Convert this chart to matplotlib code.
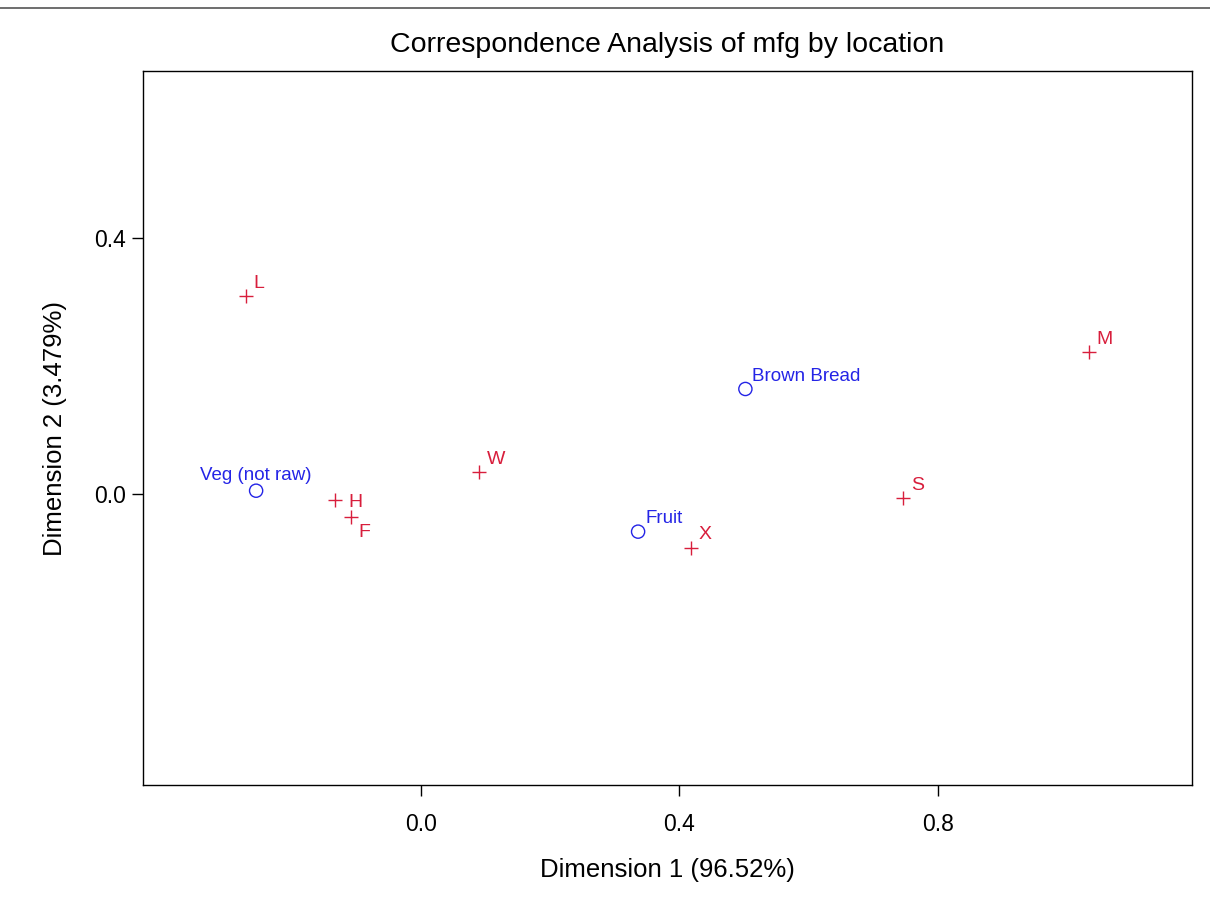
import matplotlib.pyplot as plt
from matplotlib import font_manager

# row points (location) and column points (mfg)
loc_labels = ["L", "H", "F", "W", "X", "S", "M"]
loc_x = [-0.271, -0.133, -0.108, 0.090, 0.418, 0.746, 1.034]
loc_y = [0.309, -0.009, -0.036, 0.034, -0.084, -0.006, 0.222]

mfg_labels = ["Veg (not raw)", "Fruit", "Brown Bread"]
mfg_x = [-0.255, 0.336, 0.502]
mfg_y = [0.005, -0.059, 0.164]

xticks = [0.0, 0.4, 0.8]
yticks = [0.0, 0.4]

names = {f.name for f in font_manager.fontManager.ttflist}
fam = "Liberation Sans Narrow" if "Liberation Sans Narrow" in names else "Liberation Sans"
plt.rcParams["font.family"] = [fam, "DejaVu Sans"]

red = "#d81e3c"
blue = "#2424e6"

fig = plt.figure(figsize=(12.1, 9), dpi=100)
ax = fig.add_axes([143 / 1210, 1 - 785 / 900, (1192 - 143) / 1210, (785 - 71) / 900])

ax.scatter(loc_x, loc_y, marker="+", s=110, color=red, linewidths=1.0)
ax.scatter(mfg_x, mfg_y, marker="o", s=90, facecolors="none", edgecolors=blue, linewidths=1.0)

# label placement: offset (points) and alignment for each location label
loc_pos = {"H": ((10, -2), "center"), "F": ((5, -5), "top")}
for lab, x, y in zip(loc_labels, loc_x, loc_y):
    off, va = loc_pos.get(lab, ((5.5, 3), "bottom"))
    ax.annotate(lab, (x, y), xytext=off, textcoords="offset points",
                color=red, fontsize=14, ha="left", va=va)

for lab, x, y in zip(mfg_labels, mfg_x, mfg_y):
    if lab.startswith("Veg"):
        ax.annotate(lab, (x, y), xytext=(0, 5), textcoords="offset points",
                    color=blue, fontsize=13.5, ha="center", va="bottom")
    else:
        ax.annotate(lab, (x, y), xytext=(5, 3), textcoords="offset points",
                    color=blue, fontsize=13.5, ha="left", va="bottom")

ax.set_xlim(-0.430, 1.193)
ax.set_ylim(-0.455, 0.661)
ax.set_xticks(xticks)
ax.set_xticklabels([f"{t:.1f}" for t in xticks])
ax.set_yticks(yticks)
ax.set_yticklabels([f"{t:.1f}" for t in yticks])
ax.tick_params(direction="out", length=8, width=1, labelsize=16.5)
ax.tick_params(axis="x", pad=12)
ax.tick_params(axis="y", pad=4)

ax.set_xlabel("Dimension 1 (96.52%)", fontsize=18.5, labelpad=16)
ax.set_ylabel("Dimension 2 (3.479%)", fontsize=18.5, labelpad=20)
ax.set_title("Correspondence Analysis of mfg by location", fontsize=20.5, pad=14)

for sp in ax.spines.values():
    sp.set_linewidth(1.0)

# rule at the top of the page
fig.add_artist(plt.Line2D([0, 1], [1 - 8 / 900, 1 - 8 / 900], color="#555555", linewidth=1.2))

fig.savefig("out.png", dpi=100)
